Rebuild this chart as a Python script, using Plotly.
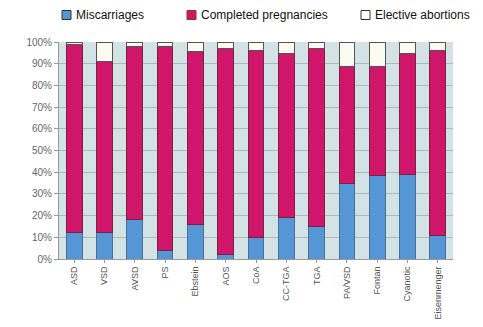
import plotly.graph_objects as go

categories = ["ASD", "VSD", "AVSD", "PS", "Ebstein", "AOS", "CoA", "CC-TGA",
              "TGA", "PA/VSD", "Fontan", "Cyanotic", "Eisenmenger"]
miscarriages = [12, 12, 18, 4, 16, 2, 10, 19, 15, 35, 38.5, 39, 11]
completed_top = [99, 91, 98, 97.8, 95.4, 97, 96.3, 94.5, 96.8, 88.5, 88.5, 94.5, 96]
completed = [round(t - m, 1) for t, m in zip(completed_top, miscarriages)]
elective = [round(100 - t, 1) for t in completed_top]
yticks = [0, 10, 20, 30, 40, 50, 60, 70, 80, 90, 100]
ytext = [f"{v}%" for v in yticks]
series_names = ["Miscarriages", "Completed pregnancies", "Elective abortions"]
series_colors = ["#5596d6", "#d0166a", "#fbfbf2"]
series_lines = ["#4a6f96", "#7a2040", "#555555"]

W, H = 483, 327
L, R, T, B = 59, 30, 42, 68
pw, ph = W - L - R, H - T - B

fig = go.Figure()
for name, vals, col, lc in zip(series_names, [miscarriages, completed, elective],
                               series_colors, series_lines):
    fig.add_bar(x=categories, y=vals, name=name, showlegend=False,
                marker=dict(color=col, line=dict(color=lc, width=1)))

# manual legend (boxes + labels) above the plot
legend_box_x = [62, 187, 361]
legend_y = 15
box = 9
for name, col, lc, bx in zip(series_names, series_colors,
                             ["#333333", "#8a3a20", "#333333"], legend_box_x):
    x0 = (bx - L) / pw
    x1 = (bx + box - L) / pw
    yc = (H - B - legend_y) / ph
    fig.add_shape(type="rect", xref="paper", yref="paper",
                  x0=x0, x1=x1, y0=yc - box / 2 / ph, y1=yc + box / 2 / ph,
                  fillcolor=col if col != "#fbfbf2" else "white",
                  line=dict(color=lc, width=1))
    fig.add_annotation(xref="paper", yref="paper", x=(bx + box + 3 - L) / pw, y=yc,
                       text=name, showarrow=False, xanchor="left", yanchor="middle",
                       font=dict(size=12, color="#111111"))

fig.update_layout(
    barmode="stack",
    bargap=0.48,
    width=W, height=H,
    margin=dict(l=L, r=R, t=T, b=B, autoexpand=False),
    paper_bgcolor="white",
    plot_bgcolor="#d3e2e4",
    font=dict(family="Arial, Liberation Sans, sans-serif", color="#222222", size=11),
    showlegend=False,
)
fig.update_yaxes(range=[0, 100], tickvals=yticks, ticktext=ytext,
                 tickfont=dict(size=10, color="#666666"),
                 showgrid=True, gridcolor="#a9b9bd", gridwidth=1,
                 showline=True, linecolor="#999999", ticks="outside",
                 ticklen=4, tickcolor="#999999", zeroline=False, automargin=False)
fig.update_xaxes(tickangle=-90, tickfont=dict(size=9, color="#555555"),
                 showline=True, linecolor="#999999", ticks="outside",
                 ticklen=3, tickcolor="#999999", automargin=False)

fig.write_html("out.html")
